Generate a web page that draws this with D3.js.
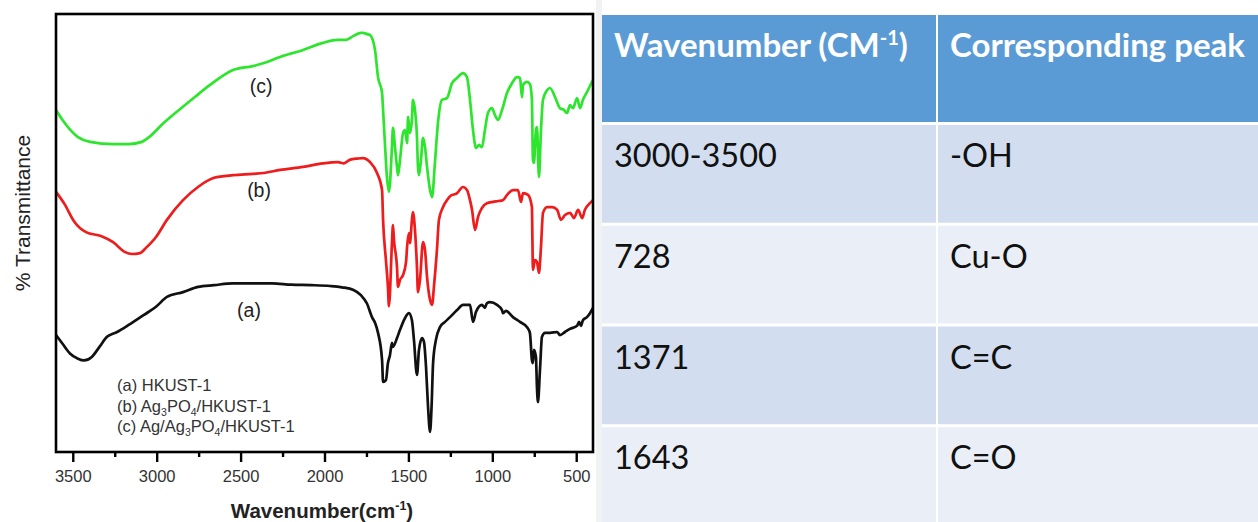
<!DOCTYPE html>
<html>
<head>
<meta charset="utf-8">
<script src="https://cdn.jsdelivr.net/npm/d3@7"></script>
<style>
  body { margin: 0; background: #ffffff; }
  svg { display: block; }
</style>
</head>
<body>
<svg id="fig" width="1258" height="522"></svg>
<script>
// ---- FTIR spectra (wavenumber in cm^-1, relative transmittance in %) ----
const xTicks = [3500, 3000, 2500, 2000, 1500, 1000, 500];
const xMinorTicks = [3250, 2750, 2250, 1750, 1250, 750];

// (a) HKUST-1
const waveA = [3600,3561,3517,3469,3433,3387,3341,3296,3236,3167,3076,3006,2939,2843,2754,2658,2545,2428,2313,2197,2080,1967,1896,1827,1783,1747,1717,1699,1681,1657,1651,1634,1622,1610,1598,1592,1568,1550,1520,1497,1479,1467,1449,1437,1419,1407,1395,1383,1371,1362,1353,1336,1312,1282,1252,1210,1175,1133,1115,1097,1062,1044,1032,1014,972,942,937,919,877,835,793,776,764,758,752,740,734,728,716,704,686,656,614,597,567,537,495,483,472,460,436,418,400];
const transA = [26.7,24.7,22.5,21.3,20.9,21.7,24.0,26.3,27.4,29.0,31.3,33.1,35.4,36.5,37.7,38.1,38.5,38.5,38.5,38.2,38.1,37.9,37.6,37.0,35.8,33.9,30.8,29.5,27.2,21.0,16.0,16.4,20.3,22.1,24.9,24.0,26.0,27.9,30.6,31.7,30.1,25.6,17.6,23.3,26.0,25.1,19.4,10.3,4.6,10.3,20.3,25.6,28.5,29.7,30.8,32.4,33.6,33.6,29.7,32.0,33.6,32.9,34.0,34.2,33.6,32.4,31.7,32.2,30.8,29.7,28.5,27.2,21.0,20.3,23.3,21.7,14.8,11.4,18.7,26.3,27.2,27.2,27.4,26.7,27.4,28.1,28.8,29.7,28.8,30.1,30.8,31.7,32.9];

// (b) Ag3PO4/HKUST-1
const waveB = [3600,3549,3493,3421,3332,3260,3191,3147,3099,3064,3004,2939,2843,2754,2658,2545,2426,2361,2265,2128,2011,1920,1884,1850,1803,1771,1729,1687,1657,1651,1634,1622,1616,1598,1592,1586,1568,1562,1550,1532,1514,1508,1497,1491,1479,1473,1461,1449,1443,1431,1413,1401,1389,1371,1359,1347,1330,1318,1294,1270,1252,1210,1175,1151,1133,1121,1103,1085,1062,1032,996,966,937,912,877,847,829,817,787,764,761,758,746,734,722,710,698,674,644,614,591,567,537,513,489,465,448,418,400];
const transB = [59.4,56.6,52.7,50.2,49.3,47.9,45.7,45.2,45.4,46.6,49.1,53.0,57.5,60.5,62.6,63.2,63.5,63.7,64.4,65.1,65.9,66.2,65.9,66.7,67.0,67.1,66.2,63.7,59.8,53.0,43.8,37.7,33.3,47.7,51.8,48.4,42.2,37.7,39.3,40.4,43.4,46.8,50.0,47.7,53.0,54.8,50.7,42.2,36.5,39.3,47.9,46.1,40.0,34.7,33.6,38.1,46.1,53.0,55.9,57.5,58.4,59.1,60.5,59.8,57.5,55.3,50.7,53.7,55.7,56.8,57.1,57.3,57.5,58.7,59.8,59.8,57.1,59.1,58.7,55.9,48.4,41.6,43.8,43.4,40.9,46.8,54.6,55.9,55.9,55.3,53.0,54.1,54.6,53.4,55.3,53.4,55.3,56.8,57.5];

// (c) Ag/Ag3PO4/HKUST-1
const waveC = [3600,3561,3469,3397,3260,3167,3088,3052,2959,2867,2774,2682,2545,2428,2361,2265,2128,2011,1920,1872,1827,1783,1771,1747,1729,1699,1681,1657,1651,1640,1628,1616,1598,1592,1580,1568,1562,1550,1532,1520,1508,1502,1491,1479,1473,1461,1449,1443,1437,1425,1413,1401,1389,1371,1359,1342,1324,1300,1270,1240,1210,1175,1151,1133,1115,1097,1079,1062,1044,1026,1002,984,966,942,912,883,853,835,823,817,793,776,764,758,752,740,734,722,710,698,674,656,626,597,573,555,537,519,495,477,460,430,406,400];
const transC = [78.1,75.8,71.9,70.8,70.3,70.3,70.8,71.7,75.1,78.1,81.0,83.8,87.2,88.1,88.8,90.2,91.8,93.4,94.1,94.1,95.0,95.7,95.7,95.4,95.2,91.8,85.6,82.0,78.1,70.5,62.8,59.4,69.6,74.0,69.6,65.1,63.2,66.7,72.8,73.5,70.5,76.5,72.8,75.8,80.4,78.1,71.9,65.1,63.2,66.7,71.7,69.6,65.1,59.8,58.2,66.0,75.1,80.4,80.8,84.2,85.4,86.5,85.6,80.4,73.5,69.4,70.1,69.6,73.5,77.4,78.5,76.9,75.8,78.1,82.0,84.2,85.6,85.4,81.0,83.8,84.5,84.0,80.4,66.7,66.0,73.5,74.2,62.8,73.5,80.4,82.6,83.1,81.0,78.5,78.1,77.4,79.2,78.5,80.8,78.5,80.4,82.6,84.5,84.9];

const seriesColors = ["#111111", "#ee1c1c", "#2ee52e"];
const curveTags = ["(a)", "(b)", "(c)"];
// tag anchors: [wavenumber, transmittance]
const curveTagWave = [2450, 2390, 2378];
const curveTagTrans = [30.8, 58.2, 82.0];

// ---- peak assignment table ----
const tableHeaders = ["Wavenumber (CM", "Corresponding peak"];
const peakWavenumbers = ["3000-3500", "728", "1371", "1643"];
const peakGroups = ["-OH", "Cu-O", "C=C", "C=O"];

const svg = d3.select("#fig");

// ---------- chart ----------
const plot = { left: 56, right: 593, top: 14, bottom: 452 };
const x = d3.scaleLinear().domain([3600, 400]).range([plot.left, plot.right]);
const y = d3.scaleLinear().domain([0, 100]).range([plot.bottom, plot.top]);

const chartFont = "'Liberation Sans', Arial, sans-serif";

const line = d3.line()
  .x(d => x(d[0]))
  .y(d => y(d[1]))
  .curve(d3.curveMonotoneX);

const series = [
  d3.zip(waveA, transA),
  d3.zip(waveB, transB),
  d3.zip(waveC, transC)
];

svg.append("g")
  .selectAll("path")
  .data(series)
  .join("path")
  .attr("d", line)
  .attr("fill", "none")
  .attr("stroke", (d, i) => seriesColors[i])
  .attr("stroke-width", 2.7)
  .attr("stroke-linejoin", "round");

// frame
svg.append("rect")
  .attr("x", plot.left).attr("y", plot.top)
  .attr("width", plot.right - plot.left).attr("height", plot.bottom - plot.top)
  .attr("fill", "none").attr("stroke", "#000").attr("stroke-width", 2.6);

// bottom axis, major + minor ticks
const xAxis = svg.append("g")
  .attr("transform", `translate(0,${plot.bottom})`)
  .call(d3.axisBottom(x).tickValues(xTicks).tickSize(10).tickPadding(8).tickFormat(d3.format("d")));
xAxis.select(".domain").remove();
xAxis.selectAll(".tick line").attr("stroke", "#000").attr("stroke-width", 2.4);
xAxis.selectAll(".tick text")
  .attr("font-family", chartFont).attr("font-size", 16.5).attr("fill", "#333");

const xMinor = svg.append("g")
  .attr("transform", `translate(0,${plot.bottom})`)
  .call(d3.axisBottom(x).tickValues(xMinorTicks).tickSize(5).tickFormat(""));
xMinor.select(".domain").remove();
xMinor.selectAll(".tick line").attr("stroke", "#000").attr("stroke-width", 2.4);

// axis titles
const xTitle = svg.append("text")
  .attr("x", 322).attr("y", 518)
  .attr("text-anchor", "middle")
  .attr("font-family", chartFont).attr("font-weight", "bold")
  .attr("font-size", 20.5).attr("fill", "#222");
xTitle.append("tspan").text("Wavenumber(cm");
xTitle.append("tspan").attr("font-size", 12.5).attr("dy", -8).text("-1");
xTitle.append("tspan").attr("dy", 8).text(")");

svg.append("text")
  .attr("transform", "translate(30,213) rotate(-90)")
  .attr("text-anchor", "middle")
  .attr("font-family", chartFont).attr("font-size", 21).attr("fill", "#222")
  .text("% Transmittance");

// curve tags
svg.append("g")
  .selectAll("text")
  .data(curveTags)
  .join("text")
  .attr("x", (d, i) => x(curveTagWave[i]))
  .attr("y", (d, i) => y(curveTagTrans[i]))
  .attr("text-anchor", "middle")
  .attr("font-family", chartFont).attr("font-size", 19.5).attr("fill", "#222")
  .text(d => d);

// legend with sub-scripted formulae
const legend = svg.append("g")
  .attr("font-family", chartFont).attr("font-size", 16.5).attr("fill", "#333");
const legendRows = [
  [["(a) HKUST-1", 0]],
  [["(b) Ag", 0], ["3", 1], ["PO", 0], ["4", 1], ["/HKUST-1", 0]],
  [["(c) Ag/Ag", 0], ["3", 1], ["PO", 0], ["4", 1], ["/HKUST-1", 0]]
];
legendRows.forEach((parts, r) => {
  const t = legend.append("text").attr("x", 117).attr("y", 391 + r * 20.6);
  let lowered = false;
  parts.forEach(([s, sub]) => {
    const ts = t.append("tspan").text(s);
    if (sub) { ts.attr("font-size", 10.5).attr("dy", 4); lowered = true; }
    else if (lowered) { ts.attr("dy", -4); lowered = false; }
  });
});

// thin grey gap between the chart and the table
svg.append("rect")
  .attr("x", 596).attr("y", 0).attr("width", 6).attr("height", 522)
  .attr("fill", "#f1f2f4");

// ---------- table ----------
const tableFont = "Lato, 'Open Sans', sans-serif";
const colX = [602, 938];
const colW = [334, 330];
const headTop = 15, headBottom = 122;
const rowY = d3.scaleBand()
  .domain(peakWavenumbers)
  .range([headBottom + 3, headBottom + 3 + 4 * 100])
  .paddingInner(0.03)
  .paddingOuter(0);

const table = svg.append("g");
table.selectAll("rect.head")
  .data(tableHeaders)
  .join("rect")
  .attr("class", "head")
  .attr("x", (d, i) => colX[i]).attr("y", headTop)
  .attr("width", (d, i) => colW[i]).attr("height", headBottom - headTop)
  .attr("fill", "#5b9bd5");

const rows = table.selectAll("g.row")
  .data(peakWavenumbers)
  .join("g")
  .attr("class", "row")
  .attr("transform", d => `translate(0,${rowY(d)})`);

rows.each(function (d, r) {
  const g = d3.select(this);
  [0, 1].forEach(c => {
    g.append("rect")
      .attr("x", colX[c]).attr("y", 0)
      .attr("width", colW[c]).attr("height", rowY.bandwidth() + (r === 3 ? 10 : 0))
      .attr("fill", r % 2 === 0 ? "#d2deef" : "#eaeff7");
  });
  g.append("text")
    .attr("x", colX[0] + 12).attr("y", 42)
    .attr("font-family", tableFont).attr("font-size", 32.5).attr("fill", "#111")
    .text(d);
  g.append("text")
    .attr("x", colX[1] + 12).attr("y", 42)
    .attr("font-family", tableFont).attr("font-size", 32.5).attr("fill", "#111")
    .text(peakGroups[r]);
});

const h0 = table.append("text")
  .attr("x", colX[0] + 12).attr("y", 57)
  .attr("font-family", tableFont).attr("font-weight", "bold")
  .attr("font-size", 33).attr("fill", "#fff");
h0.append("tspan").text(tableHeaders[0]);
h0.append("tspan").attr("font-size", 20).attr("dy", -12).text("-1");
h0.append("tspan").attr("dy", 12).text(")");

table.append("text")
  .attr("x", colX[1] + 12).attr("y", 57)
  .attr("font-family", tableFont).attr("font-weight", "bold")
  .attr("font-size", 33).attr("fill", "#fff")
  .text(tableHeaders[1]);
</script>
</body>
</html>
